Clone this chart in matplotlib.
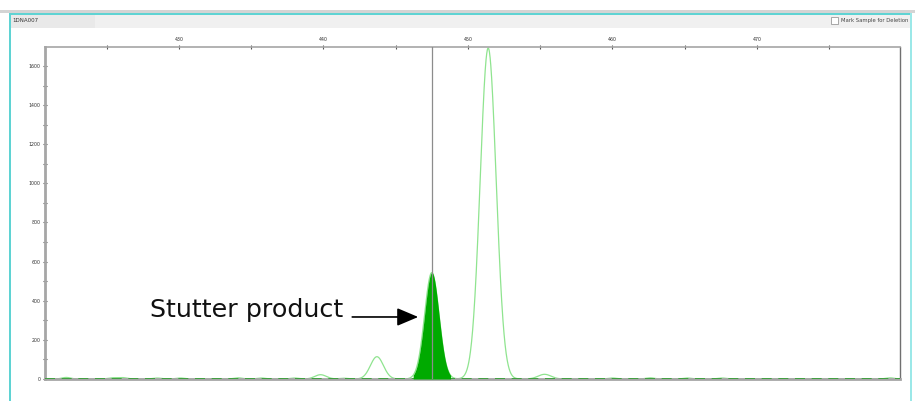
import numpy as np
import matplotlib.pyplot as plt
from matplotlib.patches import Rectangle

W, H = 915, 401

# main peaks of the trace: size (bp), height (RFU), sigma (bp)
peak_sizes = [439.8, 443.7, 447.5, 451.4, 455.3]
peak_heights = [22, 114, 544, 1692, 24]
peak_widths = [0.4, 0.45, 0.5, 0.55, 0.45]

# small baseline bumps
noise_sizes = [422.2, 425.4, 426.1, 428.5, 430.1, 434.1, 435.7, 438.0,
               441.4, 460.0, 462.6, 465.2, 467.6, 479.2]
noise_heights = [8, 6, 7, 5, 5, 6, 5, 5, 4, 5, 6, 5, 5, 6]

stutter_size = 447.5
x_major = [430, 440, 450, 460, 470]
x_minor = [425, 435, 445, 455, 465, 475]
y_major = [0, 200, 400, 600, 800, 1000, 1200, 1400, 1600]
y_minor = [100, 300, 500, 700, 900, 1100, 1300, 1500]

sample_name = "1DNA007"
label_text = "Stutter product"


def px_rect(fig, x0, y0, x1, y1, **kw):
    # rectangle in pixel coords, y measured from the top
    r = Rectangle((x0 / W, 1 - y1 / H), (x1 - x0) / W, (y1 - y0) / H,
                  transform=fig.transFigure, **kw)
    fig.add_artist(r)
    return r


def gauss(x, mu, h, s):
    return h * np.exp(-0.5 * ((x - mu) / s) ** 2)


fig = plt.figure(figsize=(W / 100, H / 100), dpi=100)
fig.patch.set_facecolor("white")

# window chrome
px_rect(fig, 0, 10, W, 13, facecolor="#d4d4d4", edgecolor="none")
px_rect(fig, 10, 14, 911, 28, facecolor="#f0f0f0", edgecolor="none")
px_rect(fig, 10, 14, 95, 28, facecolor="#e9e9e9", edgecolor="none")
px_rect(fig, 10, 13, 911, 15, facecolor="#5fd3d3", edgecolor="none")
px_rect(fig, 9, 13, 11, H, facecolor="#5fd3d3", edgecolor="none")
px_rect(fig, 910, 13, 912, H, facecolor="#9be8e8", edgecolor="none")
px_rect(fig, 831, 17, 838, 24, facecolor="white", edgecolor="#9a9a9a", lw=0.6)
fig.text(12 / W, 1 - 20.5 / H, sample_name, fontsize=4, va="center", color="#333333")
fig.text(841 / W, 1 - 20.5 / H, "Mark Sample for Deletion", fontsize=3.8,
         va="center", color="#444444")

ax = fig.add_axes([45 / W, 22 / H, 855 / W, 332 / H])
ax.set_xlim(420.73, 479.9)
ax.set_ylim(0, 1697)

sizes = np.linspace(420.73, 479.9, 4000)
trace = np.zeros_like(sizes)
for mu, h, s in zip(peak_sizes, peak_heights, peak_widths):
    trace += gauss(sizes, mu, h, s)
for mu, h in zip(noise_sizes, noise_heights):
    trace += gauss(sizes, mu, h, 0.3)

ax.plot(sizes, trace, color="#8fe48f", lw=0.9, zorder=2)
ax.axhline(0, color="#2e9e2e", lw=1.2, dashes=(6, 4), zorder=3)

# stutter peak filled
mask = np.abs(sizes - stutter_size) < 1.3
ax.fill_between(sizes[mask], trace[mask], color="#00aa00", lw=0, zorder=4)
ax.axvline(stutter_size, color="#8c8c8c", lw=0.9, zorder=5)

ax.annotate("", xy=(446.75, 317), xytext=(441.8, 317),
            arrowprops=dict(arrowstyle="-|>,head_length=1.3,head_width=0.55",
                            color="black", lw=1.2), zorder=6)
ax.text(441.35, 355, label_text, fontsize=18.3, ha="right", va="center",
        color="#111111", zorder=6)

# axes styling
for side in ["left", "bottom"]:
    ax.spines[side].set_color("#a6a6a6")
    ax.spines[side].set_linewidth(2)
ax.spines["top"].set_color("#a6a6a6")
ax.spines["top"].set_linewidth(1.2)
ax.spines["right"].set_color("#707070")
ax.spines["right"].set_linewidth(1)

ax.xaxis.tick_top()
ax.set_xticks(x_major)
ax.set_xticks(x_minor, minor=True)
ax.set_yticks(y_major)
ax.set_yticks(y_minor, minor=True)
ax.set_xticklabels([str(v) for v in x_major])
ax.set_yticklabels([str(v) for v in y_major])
ax.tick_params(axis="both", which="both", direction="inout", length=3.5,
               width=0.8, color="#555555", labelsize=3.4, pad=1.5,
               labelcolor="#333333")

fig.savefig("out.png", dpi=100)
